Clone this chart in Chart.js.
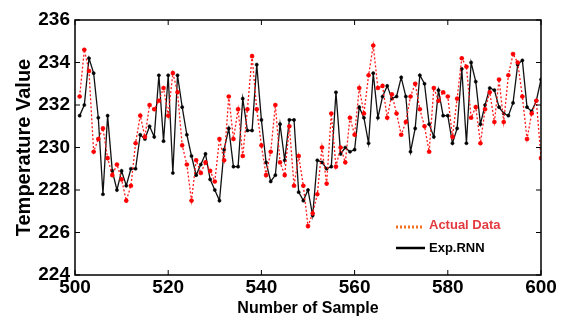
<!DOCTYPE html>
<html><head><meta charset="utf-8">
<script src="https://cdn.jsdelivr.net/npm/chart.js@4/dist/chart.umd.min.js"></script>
<style>html,body{margin:0;padding:0;background:#fff;}#wrap{width:567px;height:327px;}</style>
</head><body><div id="wrap"><canvas id="c" width="567" height="327"></canvas></div>
<script>
const firstSample = 501;
const actualData = [
232.4,234.6,233.6,229.8,230.4,230.9,229.5,228.7,229.2,228.5,
227.5,228.2,230.2,231.5,230.5,232.0,231.8,232.2,232.8,231.5,
233.5,232.6,230.1,229.2,227.5,229.4,228.8,229.3,228.9,228.4,
230.4,229.4,232.4,230.4,231.8,229.6,231.8,234.3,231.8,230.1,
228.7,229.8,232.0,229.3,228.7,231.0,228.2,229.6,228.2,226.3,
226.9,227.8,230.0,228.3,231.6,229.1,230.0,229.3,231.4,230.6,
232.8,231.6,233.4,234.8,232.8,232.9,231.4,232.5,231.6,230.6,
231.2,232.4,233.0,231.8,231.0,229.8,232.8,232.2,232.6,232.4,
230.5,232.3,234.2,233.8,231.4,231.9,230.2,231.8,232.6,231.2,
233.2,231.2,233.4,234.4,234.0,232.4,230.4,231.6,232.2,229.5];
const expRNN = [
231.5,232.0,234.2,233.5,231.4,227.8,231.5,228.9,228.0,228.9,
228.2,229.0,229.0,230.6,230.4,231.0,230.5,233.4,230.3,233.4,
228.8,233.4,231.9,230.6,229.6,228.7,229.2,229.7,228.5,228.0,
227.5,229.9,230.9,229.1,229.1,232.3,230.8,230.8,233.9,231.3,
229.3,228.4,228.7,231.1,229.4,231.3,231.3,227.9,227.5,228.0,
226.8,229.4,229.3,229.0,229.1,232.6,229.7,230.0,229.8,229.9,
231.9,231.4,230.2,233.5,231.4,232.4,232.9,232.3,232.4,233.3,
232.4,229.8,230.9,233.4,233.0,231.1,230.5,232.7,231.5,231.5,
230.2,230.9,233.7,230.2,234.0,233.1,231.1,232.0,232.8,232.7,
231.9,231.6,231.5,232.1,233.9,234.1,231.9,231.7,232.2,233.2];
const xTicks = [500,520,540,560,580,600];
const yTicks = [224,226,228,230,232,234,236];
const seriesNames = ['Actual Data','Exp.RNN'];

const toPts = arr => arr.map((v,i)=>({x:firstSample+i,y:v}));

const boxPlugin = {
  id:'box',
  afterDraw(chart){
    const {ctx, chartArea:a, scales} = chart;
    ctx.save();
    ctx.strokeStyle='#000'; ctx.lineWidth=1.5;
    ctx.strokeRect(a.left,a.top,a.right-a.left,a.bottom-a.top);
    ctx.lineWidth=1;
    const L=5;
    xTicks.forEach(v=>{const px=scales.x.getPixelForValue(v);
      ctx.beginPath();ctx.moveTo(px,a.bottom);ctx.lineTo(px,a.bottom-L);
      ctx.moveTo(px,a.top);ctx.lineTo(px,a.top+L);ctx.stroke();});
    yTicks.forEach(v=>{const py=scales.y.getPixelForValue(v);
      ctx.beginPath();ctx.moveTo(a.left,py);ctx.lineTo(a.left+L,py);
      ctx.moveTo(a.right,py);ctx.lineTo(a.right-L,py);ctx.stroke();});
    const ds = chart.data.datasets;
    const lx = 396, ly = [225, 248];
    ctx.font='bold 13px "Liberation Sans", Arial, sans-serif';
    ctx.textBaseline='middle';
    ctx.strokeStyle='#f07020'; ctx.lineWidth=3; ctx.setLineDash([2,2]);
    ctx.beginPath();ctx.moveTo(lx,ly[0]+2);ctx.lineTo(lx+28,ly[0]+2);ctx.stroke();
    ctx.setLineDash([]);
    ctx.fillStyle='#e23a3e'; ctx.fillText(ds[0].label, lx+33, ly[0]);
    ctx.strokeStyle='#000'; ctx.lineWidth=2.5;
    ctx.beginPath();ctx.moveTo(lx,ly[1]);ctx.lineTo(lx+29,ly[1]);ctx.stroke();
    ctx.fillStyle='#000'; ctx.fillText(ds[1].label, lx+33, ly[1]);
    ctx.restore();
  }
};

const tickFont = {family:'"Liberation Sans", Arial, sans-serif', size:19, weight:'bold'};
new Chart(document.getElementById('c'), {
  type:'line',
  data:{datasets:[
    {label:seriesNames[0], data:toPts(actualData), borderColor:'#ff1a1a', borderWidth:1.3, borderDash:[2,2],
     pointStyle:'star', pointRadius:2.3, pointBorderColor:'#ff0000', pointBackgroundColor:'#ff0000', pointBorderWidth:1.3, tension:0},
    {label:seriesNames[1], data:toPts(expRNN), borderColor:'#111', borderWidth:1.3,
     pointStyle:'circle', pointRadius:1.6, pointBorderColor:'#000', pointBackgroundColor:'#000', pointBorderWidth:0.5, tension:0}
  ]},
  options:{
    responsive:false, animation:false, devicePixelRatio:1,
    layout:{padding:{top:20,right:26,left:0,bottom:9}},
    plugins:{legend:{display:false}, tooltip:{enabled:false}},
    scales:{
      x:{type:'linear', min:500, max:600,
        afterBuildTicks:s=>{s.ticks=xTicks.map(v=>({value:v}));},
        afterFit:s=>{s.height=43;},
        grid:{display:false, drawTicks:false}, border:{display:false},
        ticks:{font:tickFont, color:'#000', padding:1, maxRotation:0, autoSkip:false},
        title:{display:true, text:'Number of Sample', color:'#000',
          font:{family:'"Liberation Sans", Arial, sans-serif', size:16, weight:'bold'}, padding:{top:0,bottom:0}}},
      y:{min:224, max:236,
        afterBuildTicks:s=>{s.ticks=yTicks.map(v=>({value:v}));},
        afterFit:s=>{s.width=75;},
        grid:{display:false, drawTicks:false}, border:{display:false},
        ticks:{font:tickFont, color:'#000', padding:5, autoSkip:false},
        title:{display:true, text:'Temperature Value', color:'#000',
          font:{family:'"Liberation Sans", Arial, sans-serif', size:20, weight:'bold'}, padding:{top:12,bottom:0}}}
    }
  },
  plugins:[boxPlugin]
});
</script></body></html>
